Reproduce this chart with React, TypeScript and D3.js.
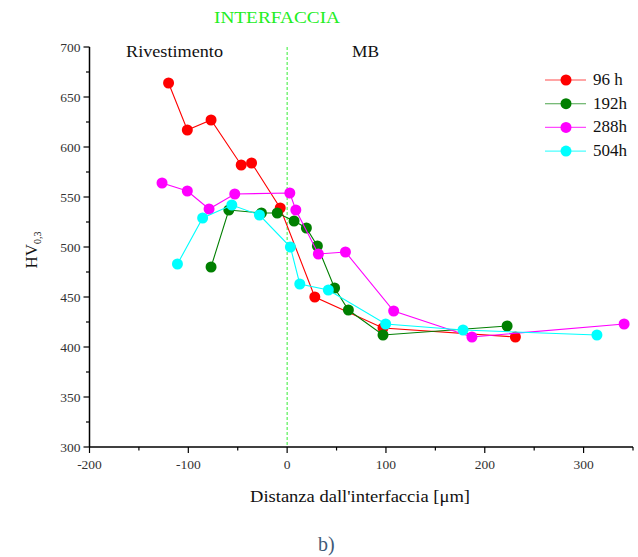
import React from "react";
import * as d3 from "d3";

const seriesNames = ["96 h", "192h", "288h", "504h"];
const seriesColors = ["#ff0000", "#007f00", "#ff00ff", "#00ffff"];

const x96 = [-120, -101, -77, -46.5, -36, -7, 28, 97, 231];
const y96 = [664, 617, 627, 582, 584, 539, 450, 419, 410];

const x192 = [-77, -59, -26, -10, 7, 19.5, 30.6, 48, 62, 97, 222.6];
const y192 = [480, 537, 534, 534, 526, 519, 501, 459, 437, 412, 421];

const x288 = [-126.6, -101, -79, -53, 2.7, 8.8, 31.6, 59, 107.8, 187, 341];
const y288 = [564, 556, 538, 553, 554, 537, 493, 495, 436, 410, 423];

const x504 = [-111, -85.5, -56, -28, 3.3, 12.8, 41.7, 99.7, 178, 313.5];
const y504 = [483, 529, 542, 532, 500, 463, 457, 423, 417, 412];

const xTicks = [-200, -100, 0, 100, 200, 300];
const yTicks = [300, 350, 400, 450, 500, 550, 600, 650, 700];

const FONT = "Liberation Serif, DejaVu Serif, Times New Roman, serif";

export default function App() {
  const W = 638, H = 557;
  const x = d3.scaleLinear().domain([-200, 350]).range([89.5, 633]);
  const y = d3.scaleLinear().domain([300, 700]).range([447, 47]);
  const series = [
    { xs: x96, ys: y96 },
    { xs: x192, ys: y192 },
    { xs: x288, ys: y288 },
    { xs: x504, ys: y504 },
  ];
  const line = d3.line<[number, number]>().x((d) => x(d[0])).y((d) => y(d[1]));
  const minorX = d3.range(-200, 351, 50);
  const minorY = d3.range(300, 701, 25);

  return (
    <svg width={W} height={H} style={{ position: "absolute", left: 0, top: 0, background: "#fff", fontFamily: FONT }}>
      <rect width={W} height={H} fill="#fff" />
      <text x={214} y={23} fontSize={17} fill="#22ee22" textLength={126} lengthAdjust="spacingAndGlyphs">INTERFACCIA</text>
      <line x1={x(0)} x2={x(0)} y1={y(700)} y2={y(300)} stroke="#33ee33" strokeWidth={1} strokeDasharray="3,2" />
      <line x1={x(-200)} x2={x(-200)} y1={y(700)} y2={y(300)} stroke="#000" strokeWidth={1.5} />
      <line x1={x(-200)} x2={x(350)} y1={y(300)} y2={y(300)} stroke="#000" strokeWidth={1.5} />
      {minorY.map((v) => (
        <line key={"my" + v} x1={x(-200)} x2={x(-200) - (v % 50 === 0 ? 6 : 3.5)} y1={y(v)} y2={y(v)} stroke="#000" strokeWidth={1.2} />
      ))}
      {minorX.map((v) => (
        <line key={"mx" + v} x1={x(v)} x2={x(v)} y1={y(300)} y2={y(300) + (v % 100 === 0 ? 6 : 3.5)} stroke="#000" strokeWidth={1.2} />
      ))}
      {yTicks.map((v) => (
        <text key={"yt" + v} x={x(-200) - 9} y={y(v) + 4.5} textAnchor="end" fontSize={13.5} fill="#333">{v}</text>
      ))}
      {xTicks.map((v) => (
        <text key={"xt" + v} x={x(v)} y={y(300) + 22} textAnchor="middle" fontSize={13.5} fill="#333">{v}</text>
      ))}
      <text x={250} y={502} fontSize={17} fill="#111" textLength={220} lengthAdjust="spacingAndGlyphs">Distanza dall'interfaccia [μm]</text>
      <text transform="translate(37,250) rotate(-90)" textAnchor="middle" fontSize={17} fill="#111">
        HV<tspan fontSize={10} dy={4}>0,3</tspan>
      </text>
      <text x={126} y={57} fontSize={17} fill="#111" textLength={97} lengthAdjust="spacingAndGlyphs">Rivestimento</text>
      <text x={352} y={57} fontSize={17} fill="#111" textLength={27} lengthAdjust="spacingAndGlyphs">MB</text>
      {series.map((s, i) => {
        const pts = s.xs.map((v, j) => [v, s.ys[j]] as [number, number]);
        return (
          <g key={"s" + i}>
            <path d={line(pts) || ""} fill="none" stroke={seriesColors[i]} strokeWidth={1.1} />
            {pts.map((p, j) => (
              <circle key={j} cx={x(p[0])} cy={y(p[1])} r={5.5} fill={seriesColors[i]} />
            ))}
          </g>
        );
      })}
      {seriesNames.map((n, i) => {
        const ly = 80 + i * 23.7;
        return (
          <g key={"l" + i}>
            <line x1={545} x2={586} y1={ly} y2={ly} stroke={seriesColors[i]} strokeWidth={1.1} opacity={0.7} />
            <circle cx={566} cy={ly} r={5.5} fill={seriesColors[i]} />
            <text x={593} y={ly + 5} fontSize={17} fill="#111">{n}</text>
          </g>
        );
      })}
      <text x={318} y={551} fontSize={20} fill="#3f5a78">b)</text>
    </svg>
  );
}
